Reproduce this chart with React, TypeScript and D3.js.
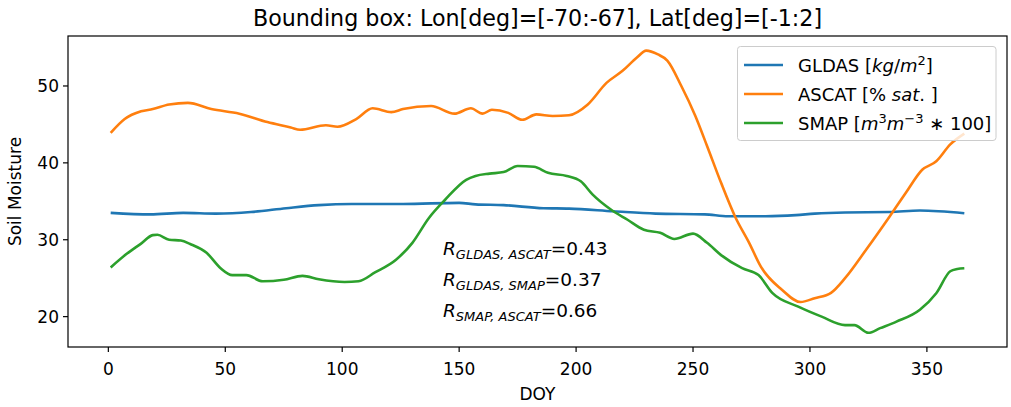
import React from "react";
import * as d3 from "d3";

// GLDAS (blue)
const gldasDoy = [1, 18, 32, 46, 61, 76, 90, 104, 126, 150, 157, 169, 186, 197, 216, 234, 255, 265, 281, 294, 302, 315, 334, 347, 366];
const gldasVal = [33.5, 33.3, 33.5, 33.4, 33.6, 34.1, 34.5, 34.65, 34.65, 34.8, 34.6, 34.5, 34.1, 34.05, 33.7, 33.4, 33.3, 33.05, 33.05, 33.2, 33.4, 33.55, 33.6, 33.8, 33.45];

// ASCAT (orange)
const ascatDoy = [1, 7, 14, 19, 26, 34, 44, 56, 68, 78, 82, 93, 98, 106, 113, 121, 126, 138, 148, 155, 160, 164, 171, 177, 183, 190, 197, 205, 213, 220, 226, 230, 235, 239, 245, 251, 256, 262, 268, 274, 279, 288, 296, 302, 309, 315, 324, 334, 341, 348, 354, 360, 366];
const ascatVal = [43.9, 45.7, 46.7, 47.0, 47.6, 47.8, 47.0, 46.4, 45.3, 44.6, 44.3, 44.9, 44.7, 45.7, 47.1, 46.6, 47.0, 47.4, 46.4, 47.1, 46.4, 46.9, 46.5, 45.6, 46.3, 46.1, 46.2, 47.6, 50.4, 52.0, 53.7, 54.6, 54.1, 53.3, 50.0, 46.1, 42.2, 37.4, 33.0, 29.6, 26.5, 23.5, 21.9, 22.4, 23.1, 25.0, 28.7, 33.0, 36.1, 39.1, 40.2, 42.4, 43.8];

// SMAP (green)
const smapDoy = [1, 8, 14, 19, 21, 26, 31, 35, 42, 48, 53, 59, 66, 75, 83, 90, 101, 107, 114, 123, 130, 137, 144, 153, 157, 163, 169, 175, 182, 188, 196, 202, 207, 215, 222, 229, 236, 242, 250, 256, 262, 271, 278, 284, 295, 305, 315, 319, 325, 330, 337, 347, 354, 360, 363, 366];
const smapVal = [26.4, 28.2, 29.5, 30.6, 30.65, 30.0, 29.9, 29.45, 28.3, 26.3, 25.4, 25.4, 24.6, 24.8, 25.3, 24.85, 24.5, 24.6, 25.75, 27.4, 29.6, 32.8, 35.2, 37.8, 38.3, 38.6, 38.8, 39.6, 39.5, 38.7, 38.3, 37.6, 35.9, 33.9, 32.6, 31.3, 30.9, 30.1, 30.8, 29.6, 28.0, 26.3, 25.4, 23.05, 21.3, 20.0, 18.9, 18.9, 17.9, 18.5, 19.35, 20.9, 23.05, 25.9, 26.2, 26.3];

const xTicks = [0, 50, 100, 150, 200, 250, 300, 350];
const yTicks = [20, 30, 40, 50];
const corr = [
  { sub: "GLDAS, ASCAT", val: "0.43" },
  { sub: "GLDAS, SMAP", val: "0.37" },
  { sub: "SMAP, ASCAT", val: "0.66" },
];

const W = 1011;
const H = 407;
const left = 68, right = 1007, top = 36, bottom = 347;
const font = "DejaVu Sans, sans-serif";

export default function App() {
  const x = d3.scaleLinear().domain([-17.25, 384.25]).range([left, right]);
  const y = d3.scaleLinear().domain([16.05, 56.5]).range([bottom, top]);

  const line = d3
    .line<[number, number]>()
    .x((d) => x(d[0]))
    .y((d) => y(d[1]))
    .curve(d3.curveMonotoneX);

  const series = [
    { doy: gldasDoy, val: gldasVal, color: "#1f77b4" },
    { doy: ascatDoy, val: ascatVal, color: "#ff7f0e" },
    { doy: smapDoy, val: smapVal, color: "#2ca02c" },
  ];

  const legendRows = [65, 94, 123];

  return (
    <svg
      width={W}
      height={H}
      style={{ position: "absolute", left: 0, top: 0, background: "#fff" }}
      fontFamily={font}
    >
      <rect x={0} y={0} width={W} height={H} fill="#fff" />
      <text x={(left + right) / 2} y={26} textAnchor="middle" fontSize={22.2}>
        Bounding box: Lon[deg]=[-70:-67], Lat[deg]=[-1:2]
      </text>

      <clipPath id="plot">
        <rect x={left} y={top} width={right - left} height={bottom - top} />
      </clipPath>

      <g clipPath="url(#plot)">
        {series.map((s, i) => (
          <path
            key={i}
            d={line(s.doy.map((d, j) => [d, s.val[j]] as [number, number])) || ""}
            fill="none"
            stroke={s.color}
            strokeWidth={2.6}
            strokeLinejoin="round"
            strokeLinecap="butt"
          />
        ))}
      </g>

      {/* correlation notes */}
      {corr.map((c, i) => (
        <text key={c.sub} x={443} y={255 + i * 31} fontSize={18.5}>
          <tspan fontStyle="italic">R</tspan>
          <tspan fontStyle="italic" fontSize={13} dy={4}>{c.sub}</tspan>
          <tspan dy={-4}>={c.val}</tspan>
        </text>
      ))}

      {/* legend */}
      <rect x={737.5} y={46.5} width={258.5} height={94} rx={3} fill="#fff" fillOpacity={0.8} stroke="#ccc" />
      {series.map((s, i) => (
        <line key={i} x1={744} x2={783} y1={legendRows[i]} y2={legendRows[i]} stroke={s.color} strokeWidth={2.6} />
      ))}
      <text x={798} y={legendRows[0] + 7} fontSize={18}>
        GLDAS [<tspan fontStyle="italic">kg</tspan>/<tspan fontStyle="italic">m</tspan>
        <tspan fontSize={13} dy={-7}>2</tspan>
        <tspan dy={7}>]</tspan>
      </text>
      <text x={798} y={legendRows[1] + 7} fontSize={18}>
        ASCAT [% <tspan fontStyle="italic">sat</tspan>. ]
      </text>
      <text x={798} y={legendRows[2] + 7} fontSize={18}>
        SMAP [<tspan fontStyle="italic">m</tspan>
        <tspan fontSize={13} dy={-7}>3</tspan>
        <tspan fontStyle="italic" dy={7}>m</tspan>
        <tspan fontSize={13} dy={-7}>−3</tspan>
        <tspan dy={7}> ∗ 100]</tspan>
      </text>

      {/* frame */}
      <rect x={left} y={top} width={right - left} height={bottom - top} fill="none" stroke="#000" strokeWidth={1.2} />

      {/* x axis */}
      {xTicks.map((t) => (
        <g key={t} transform={`translate(${x(t)},${bottom})`}>
          <line y1={0} y2={5} stroke="#000" strokeWidth={1.2} />
          <text y={28} textAnchor="middle" fontSize={17}>{t}</text>
        </g>
      ))}
      <text x={(left + right) / 2} y={400} textAnchor="middle" fontSize={17}>DOY</text>

      {/* y axis */}
      {yTicks.map((t) => (
        <g key={t} transform={`translate(${left},${y(t)})`}>
          <line x1={-5} x2={0} stroke="#000" strokeWidth={1.2} />
          <text x={-9} dy="0.36em" textAnchor="end" fontSize={17}>{t}</text>
        </g>
      ))}
      <text transform={`translate(21,${(top + bottom) / 2}) rotate(-90)`} textAnchor="middle" fontSize={17}>
        Soil Moisture
      </text>
    </svg>
  );
}
